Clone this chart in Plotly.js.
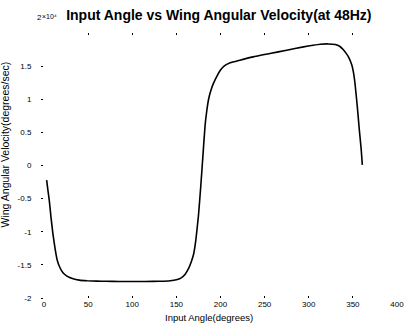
<!DOCTYPE html>
<html>
<head>
<meta charset="utf-8">
<script src="https://cdn.plot.ly/plotly-3.0.1.min.js"></script>
<style>html,body{margin:0;padding:0;background:#fff;}#chart{width:406px;height:326px;}</style>
</head>
<body>
<div id="chart"></div>
<script>
const inputAngle = [3, 4.5, 6, 8, 10, 12.5, 15, 18, 21.5, 26, 33, 40, 49, 60, 70, 85, 100, 115, 131, 143, 150, 155, 160, 164, 167, 169.5, 172, 175, 177.6, 180, 182.5, 184.5, 186.5, 189, 192, 196, 200, 204, 211, 222, 237, 256, 275, 294, 305, 313, 322, 330, 335, 339, 342, 345, 348.7, 351, 352.4, 355, 357.3, 359.5, 360.7];
const angularVelocity = [-2200, -3800, -5300, -7900, -10200, -12500, -14300, -15400, -16200, -16700, -17100, -17300, -17400, -17450, -17480, -17500, -17500, -17500, -17480, -17400, -17250, -17000, -16400, -15500, -14500, -13400, -11300, -7600, -3200, 1300, 6000, 8300, 10000, 11300, 12400, 13500, 14400, 15000, 15500, 15900, 16400, 16900, 17400, 17900, 18150, 18300, 18350, 18250, 18000, 17500, 17000, 16400, 15200, 13800, 12400, 8900, 5400, 2300, 100];
const yTickVals = [-20000, -15000, -10000, -5000, 0, 5000, 10000, 15000];
const yTickText = ['-2', '-1.5', '-1', '-0.5', '0', '0.5', '1', '1.5'];
const xTickVals = [0, 50, 100, 150, 200, 250, 300, 350, 400];

const font = 'Liberation Sans, Arial, sans-serif';
const trace = {
  x: inputAngle, y: angularVelocity, type: 'scatter', mode: 'lines',
  line: {color: '#000', width: 1.6, shape: 'spline', smoothing: 0.4},
  hoverinfo: 'skip', showlegend: false
};
const layout = {
  width: 406, height: 326,
  margin: {l: 44, r: 9, t: 33, b: 28},
  paper_bgcolor: '#fff', plot_bgcolor: '#fff',
  title: {text: 'Input Angle vs Wing Angular Velocity(at 48Hz)', x: 0.539, xanchor: 'center', y: 0.955, yanchor: 'middle',
    font: {family: font, size: 14, color: '#000', weight: 'bold'}},
  xaxis: {range: [0, 400], tickvals: xTickVals, showgrid: false, zeroline: false, showline: false,
    ticks: 'inside', ticklen: 2, tickcolor: '#000', mirror: 'ticks',
    tickfont: {family: font, size: 8, color: '#000'}},
  yaxis: {range: [-20000, 20000], tickvals: yTickVals, ticktext: yTickText, showgrid: false, zeroline: false, showline: false,
    ticks: 'outside', ticklen: 2, tickcolor: '#000', ticklabelstandoff: 8,
    tickfont: {family: font, size: 8, color: '#000'}},
  annotations: [
    {xref: 'paper', yref: 'paper', x: -0.025, y: 1.058, xanchor: 'left', yanchor: 'middle', showarrow: false,
     text: '2', font: {family: font, size: 8, color: '#000'}},
    {xref: 'paper', yref: 'paper', x: -0.012, y: 1.064, xanchor: 'left', yanchor: 'middle', showarrow: false,
     text: '×10⁴', font: {family: font, size: 7, color: '#000'}},
    {xref: 'paper', yref: 'paper', x: -0.11, y: 0.58, xanchor: 'center', yanchor: 'middle', showarrow: false, textangle: -90,
     text: 'Wing Angular Velocity(degrees/sec)', font: {family: font, size: 10.5, color: '#000'}},
    {xref: 'paper', yref: 'paper', x: 0.467, y: -0.075, xanchor: 'center', yanchor: 'middle', showarrow: false,
     text: 'Input Angle(degrees)', font: {family: font, size: 9.5, color: '#000'}}
  ]
};
Plotly.newPlot('chart', [trace], layout, {displayModeBar: false, staticPlot: true});
</script>
</body>
</html>
